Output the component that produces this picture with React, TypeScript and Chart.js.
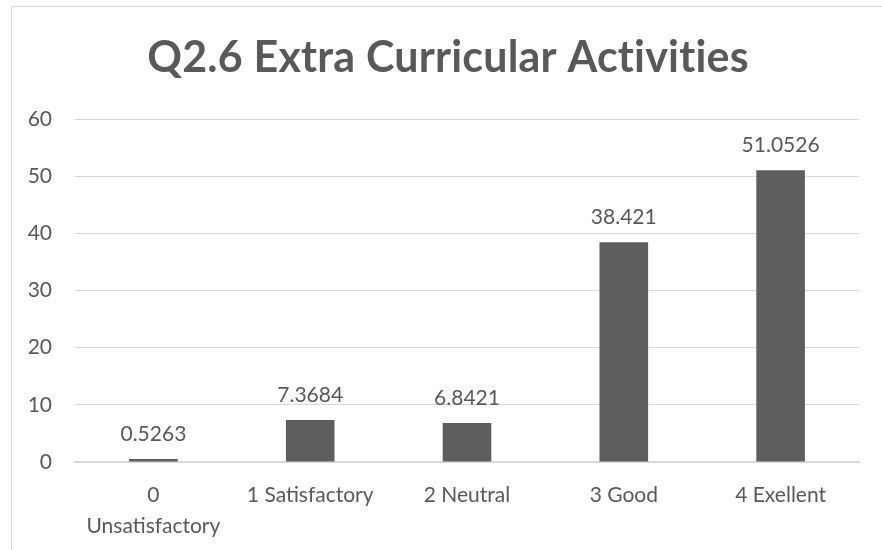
import React, { useEffect, useRef } from "react";
import { Chart, registerables } from "chart.js";

Chart.register(...registerables);

const categories: (string | string[])[] = [
  ["0", "Unsatisfactory"],
  "1 Satisfactory",
  "2 Neutral",
  "3 Good",
  "4 Exellent",
];
const values = [0.5263, 7.3684, 6.8421, 38.421, 51.0526];
const valueLabels = ["0.5263", "7.3684", "6.8421", "38.421", "51.0526"];
const titleText = "Q2.6 Extra Curricular Activities";

const TEXT = "#595959";
const GRID = "#d9d9d9";
const BAR = "#5e5e5e";
const FONT = "Lato, 'Open Sans', sans-serif";

const framePlugin = {
  id: "frame",
  beforeDraw(chart: any) {
    const ctx = chart.ctx;
    ctx.save();
    ctx.fillStyle = "#ffffff";
    ctx.fillRect(0, 0, chart.width, chart.height);
    ctx.strokeStyle = GRID;
    ctx.lineWidth = 1;
    ctx.beginPath();
    ctx.moveTo(11.5, chart.height);
    ctx.lineTo(11.5, 6.5);
    ctx.lineTo(chart.width, 6.5);
    ctx.stroke();
    ctx.restore();
  },
  afterDraw(chart: any) {
    const ctx = chart.ctx;
    ctx.save();
    ctx.fillStyle = TEXT;
    ctx.font = `bold 43px ${FONT}`;
    try {
      (ctx as any).letterSpacing = "0.2px";
    } catch (e) {}
    ctx.textAlign = "center";
    ctx.textBaseline = "alphabetic";
    ctx.fillText(titleText, 448, 72);
    ctx.restore();
  },
};

const labelPlugin = {
  id: "valueLabels",
  afterDatasetsDraw(chart: any) {
    const ctx = chart.ctx;
    const meta = chart.getDatasetMeta(0);
    ctx.save();
    ctx.fillStyle = TEXT;
    ctx.font = `21px ${FONT}`;
    ctx.textAlign = "center";
    ctx.textBaseline = "middle";
    meta.data.forEach((el: any, i: number) => {
      ctx.fillText(valueLabels[i], el.x, el.y - 25);
    });
    ctx.restore();
  },
};

export default function App() {
  const ref = useRef<HTMLCanvasElement>(null);
  useEffect(() => {
    if (!ref.current) return;
    const chart = new Chart(ref.current, {
      type: "bar",
      data: {
        labels: categories,
        datasets: [
          {
            data: values,
            backgroundColor: BAR,
            borderWidth: 0,
            categoryPercentage: 1,
            barPercentage: 0.31,
          },
        ],
      },
      options: {
        animation: false,
        responsive: false,
        layout: { padding: { left: 0, right: 23, top: 119, bottom: 0 } },
        plugins: {
          legend: { display: false },
          tooltip: { enabled: false },
          title: { display: false },
        },
        scales: {
          x: {
            grid: { display: false, drawTicks: false },
            border: { display: true, color: GRID, width: 2 },
            ticks: {
              color: TEXT,
              font: { family: FONT, size: 21, lineHeight: 1.5 },
              padding: 17,
              maxRotation: 0,
              autoSkip: false,
            },
            afterFit(scale: any) {
              scale.height = 88;
            },
          },
          y: {
            min: 0,
            max: 60,
            ticks: {
              stepSize: 10,
              color: TEXT,
              font: { family: FONT, size: 21 },
              padding: 23,
            },
            grid: { color: GRID, lineWidth: 1, drawTicks: false },
            border: { display: false },
            afterFit(scale: any) {
              scale.width = 75;
            },
          },
        },
      },
      plugins: [framePlugin, labelPlugin],
    });
    return () => chart.destroy();
  }, []);
  return (
    <div style={{ position: "absolute", left: 0, top: 0, width: 882, height: 550 }}>
      <canvas ref={ref} width={882} height={550} style={{ display: "block" }} />
    </div>
  );
}
